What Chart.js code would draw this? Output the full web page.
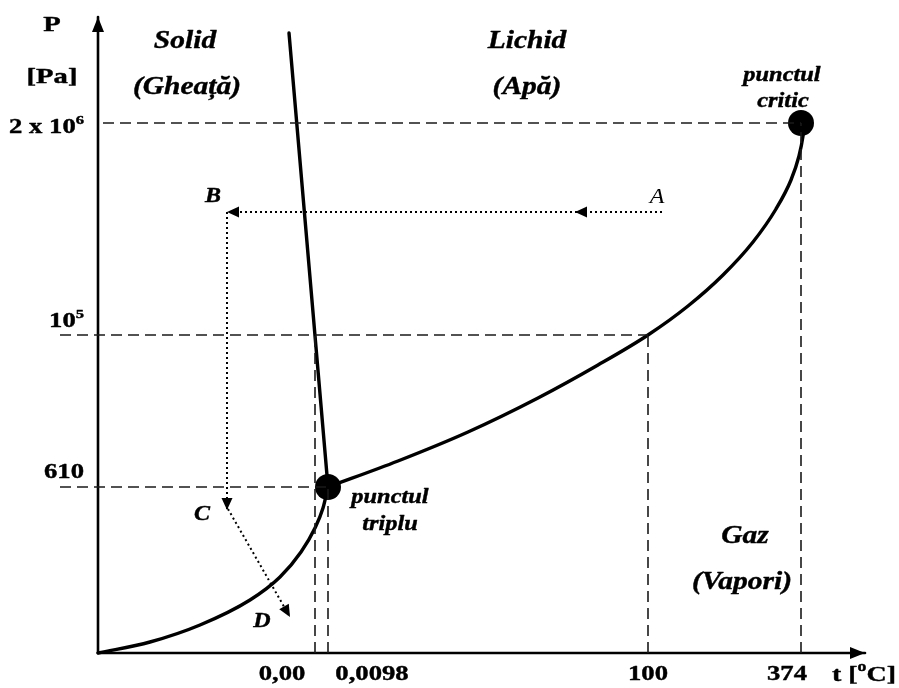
<!DOCTYPE html>
<html>
<head>
<meta charset="utf-8">
<script src="https://cdn.jsdelivr.net/npm/chart.js@4/dist/chart.umd.min.js"></script>
<style>
  html, body { margin: 0; padding: 0; background: #fff; }
  #wrap { width: 899px; height: 688px; position: relative; }
</style>
</head>
<body>
<div id="wrap"><canvas id="c"></canvas></div>
<script>
// Schematic phase diagram of water (axes are not to scale).
// Diagram units: x = temperature axis position, y = pressure axis position.

const tempTickLabels = ['0,00', '0,0098', '100', '374'];
const tempTickPos = [217, 230, 550, 703];

const pressTickBase = ['610', '10', '2 x 10'];
const pressTickExp = ['', '5', '6'];
const pressTickPos = [166, 318, 530];

const triplePoint = [{ x: 230, y: 166 }];
const criticalPoint = [{ x: 703, y: 530 }];

// solid / liquid boundary
const fusionCurve = [{ x: 230, y: 166 }, { x: 191, y: 620 }];
// solid / vapour boundary
const sublimationCurve = [
  { x: 0, y: 0 }, { x: 52, y: 11 }, { x: 102, y: 28 }, { x: 152, y: 53 },
  { x: 182, y: 76 }, { x: 203, y: 101 }, { x: 217, y: 125 }, { x: 225, y: 145 },
  { x: 230, y: 166 }
];
// liquid / vapour boundary
const vaporizationCurve = [
  { x: 230, y: 166 }, { x: 300, y: 192 }, { x: 370, y: 221 }, { x: 440, y: 255 },
  { x: 500, y: 288 }, { x: 550, y: 318 }, { x: 590, y: 347 }, { x: 625, y: 378 },
  { x: 655, y: 411 }, { x: 678, y: 444 }, { x: 693, y: 473 }, { x: 701, y: 497 },
  { x: 705, y: 517 }, { x: 706, y: 526 }
];

// transformation A -> B -> C -> D
const processAB = [{ x: 564, y: 441 }, { x: 129, y: 441 }];
const processBC = [{ x: 129, y: 441 }, { x: 129, y: 143 }];
const processCD = [{ x: 130, y: 144 }, { x: 192, y: 36 }];

const axisX = [{ x: 0, y: 0 }, { x: 767, y: 0 }];
const axisY = [{ x: 0, y: 0 }, { x: 0, y: 636 }];

// ---- layout (text placement, in diagram units) ----
const guideStartLeft = -38;
const tempLabelShift = [-33, 44, 0, -14];
const tickLabelY = -22;
const pressLabelRight = -14;
const pressLabelShift = [14, 13, -5];

const regionLabels = [
  ['Solid', 87, 611], ['(Gheață)', 89, 565],
  ['Lichid', 429, 611], ['(Apă)', 429, 565],
  ['Gaz', 647, 116], ['(Vapori)', 644, 70]
];
const pointLabels = [
  ['punctul', 684, 577], ['critic', 685, 551],
  ['punctul', 292, 155], ['triplu', 292, 128]
];
const stateLabels = [['A', 559, 455, false], ['B', 115, 456, true], ['C', 104, 138, true], ['D', 164, 31, true]];

const INK = '#000';
const GUIDE = '#1a1a1a';
const SERIF = '"Liberation Serif", "Times New Roman", serif';

function guide(points) {
  return {
    data: points, showLine: true, pointRadius: 0,
    borderColor: GUIDE, borderWidth: 1.6, borderDash: [11, 6]
  };
}
function solid(points, width, smooth) {
  return {
    data: points, showLine: true, pointRadius: 0,
    borderColor: INK, borderWidth: width,
    cubicInterpolationMode: smooth ? 'monotone' : 'default',
    borderCapStyle: 'round', borderJoinStyle: 'round'
  };
}
function dotted(points) {
  return {
    data: points, showLine: true, pointRadius: 0,
    borderColor: INK, borderWidth: 2, borderDash: [2, 3]
  };
}
function marker(points) {
  return {
    data: points, showLine: false, pointRadius: 13,
    pointBackgroundColor: INK, pointBorderColor: INK, pointBorderWidth: 0
  };
}

const datasets = [
  guide([{ x: 5, y: pressTickPos[2] }, { x: criticalPoint[0].x, y: pressTickPos[2] }]),
  guide([{ x: guideStartLeft, y: pressTickPos[1] }, { x: tempTickPos[2], y: pressTickPos[1] }]),
  guide([{ x: guideStartLeft, y: pressTickPos[0] }, { x: tempTickPos[1], y: pressTickPos[0] }]),
  guide([{ x: tempTickPos[0], y: 0 }, { x: tempTickPos[0], y: pressTickPos[1] }]),
  guide([{ x: tempTickPos[1], y: 0 }, { x: tempTickPos[1], y: pressTickPos[0] }]),
  guide([{ x: tempTickPos[2], y: 0 }, { x: tempTickPos[2], y: pressTickPos[1] }]),
  guide([{ x: tempTickPos[3], y: 0 }, { x: tempTickPos[3], y: pressTickPos[2] }]),
  solid(axisX, 2.6, false),
  solid(axisY, 2.6, false),
  solid(fusionCurve, 3.4, false),
  solid(sublimationCurve, 3.4, true),
  solid(vaporizationCurve, 3.4, true),
  dotted(processAB),
  dotted(processBC),
  dotted(processCD),
  marker(triplePoint),
  marker(criticalPoint)
];

// text with optional superscript parts, stretched horizontally by sx
function drawRich(ctx, parts, x, y, size, style, sx, align, heavy) {
  const supSize = Math.round(size * 0.62);
  let total = 0;
  const widths = parts.map(([t, sup]) => {
    ctx.font = style + ' ' + (sup ? supSize : size) + 'px ' + SERIF;
    const w = ctx.measureText(t).width;
    total += w;
    return w;
  });
  ctx.save();
  ctx.translate(x, y);
  ctx.scale(sx, 1);
  let cx = align === 'right' ? -total : align === 'center' ? -total / 2 : 0;
  ctx.textAlign = 'left';
  ctx.textBaseline = 'middle';
  ctx.fillStyle = INK;
  ctx.strokeStyle = INK;
  ctx.lineWidth = 0.4;
  ctx.lineJoin = 'round';
  parts.forEach(([t, sup], i) => {
    ctx.font = style + ' ' + (sup ? supSize : size) + 'px ' + SERIF;
    const ty = sup ? -size * 0.36 : 0;
    ctx.fillText(t, cx, ty);
    if (heavy) ctx.strokeText(t, cx, ty);
    cx += widths[i];
  });
  ctx.restore();
}

function arrowHead(ctx, tip, from, len, half) {
  const a = Math.atan2(tip.y - from.y, tip.x - from.x);
  ctx.save();
  ctx.translate(tip.x, tip.y);
  ctx.rotate(a);
  ctx.beginPath();
  ctx.moveTo(0, 0);
  ctx.lineTo(-len, -half);
  ctx.lineTo(-len, half);
  ctx.closePath();
  ctx.fillStyle = INK;
  ctx.fill();
  ctx.restore();
}

const diagramDecor = {
  id: 'diagramDecor',
  beforeDraw(chart) {
    const { ctx, width, height } = chart;
    ctx.save();
    ctx.fillStyle = '#fff';
    ctx.fillRect(0, 0, width, height);
    ctx.restore();
  },
  afterDatasetsDraw(chart) {
    const { ctx } = chart;
    const sx = chart.scales.x, sy = chart.scales.y;
    const P = (p) => ({ x: sx.getPixelForValue(p.x), y: sy.getPixelForValue(p.y) });

    // arrowheads on axes
    arrowHead(ctx, P(axisX[1]), P(axisX[0]), 15, 6);
    arrowHead(ctx, P(axisY[1]), P(axisY[0]), 15, 6);

    // arrowheads on the transformation path
    const midAB = {
      x: processAB[0].x + (processAB[1].x - processAB[0].x) * 0.2,
      y: processAB[0].y
    };
    arrowHead(ctx, P(midAB), P(processAB[0]), 12, 5.5);
    arrowHead(ctx, P(processAB[1]), P(processAB[0]), 12, 5.5);
    arrowHead(ctx, P(processBC[1]), P(processBC[0]), 12, 5.5);
    arrowHead(ctx, P(processCD[1]), P(processCD[0]), 12, 5.5);

    // temperature tick labels
    const tickY = sy.getPixelForValue(tickLabelY);
    tempTickLabels.forEach((t, i) => {
      drawRich(ctx, [[t, false]], sx.getPixelForValue(tempTickPos[i] + tempLabelShift[i]), tickY, 21, 'bold', 1.27, 'center', true);
    });
    drawRich(ctx, [['t [', false], ['o', true], ['C]', false]], sx.getPixelForValue(766), tickY, 22, 'bold', 1.27, 'center', true);

    // pressure tick labels
    pressTickBase.forEach((t, i) => {
      const parts = [[t, false]];
      if (pressTickExp[i]) parts.push([pressTickExp[i], true]);
      drawRich(ctx, parts, sx.getPixelForValue(pressLabelRight), sy.getPixelForValue(pressTickPos[i] + pressLabelShift[i]), 21, 'bold', 1.27, 'right', true);
    });
    drawRich(ctx, [['P', false]], sx.getPixelForValue(-46), sy.getPixelForValue(628), 22, 'bold', 1.3, 'center', true);
    drawRich(ctx, [['[Pa]', false]], sx.getPixelForValue(-46), sy.getPixelForValue(576), 22, 'bold', 1.3, 'center', true);

    regionLabels.forEach(([t, x, y]) => {
      drawRich(ctx, [[t, false]], sx.getPixelForValue(x), sy.getPixelForValue(y), 25, 'italic bold', 1.18, 'center', true);
    });
    pointLabels.forEach(([t, x, y]) => {
      drawRich(ctx, [[t, false]], sx.getPixelForValue(x), sy.getPixelForValue(y), 20, 'italic bold', 1.22, 'center', true);
    });
    stateLabels.forEach(([t, x, y, heavy]) => {
      drawRich(ctx, [[t, false]], sx.getPixelForValue(x), sy.getPixelForValue(y), 20, heavy ? 'italic bold' : 'italic', 1.2, 'center', heavy);
    });
  }
};

new Chart(document.getElementById('c'), {
  type: 'scatter',
  data: { datasets },
  options: {
    responsive: true,
    maintainAspectRatio: false,
    animation: false,
    events: [],
    layout: { padding: 0, autoPadding: false },
    plugins: { legend: { display: false }, tooltip: { enabled: false } },
    scales: {
      x: { type: 'linear', min: -98, max: 801, display: false },
      y: { type: 'linear', min: -35, max: 653, display: false }
    }
  },
  plugins: [diagramDecor]
});
</script>
</body>
</html>
